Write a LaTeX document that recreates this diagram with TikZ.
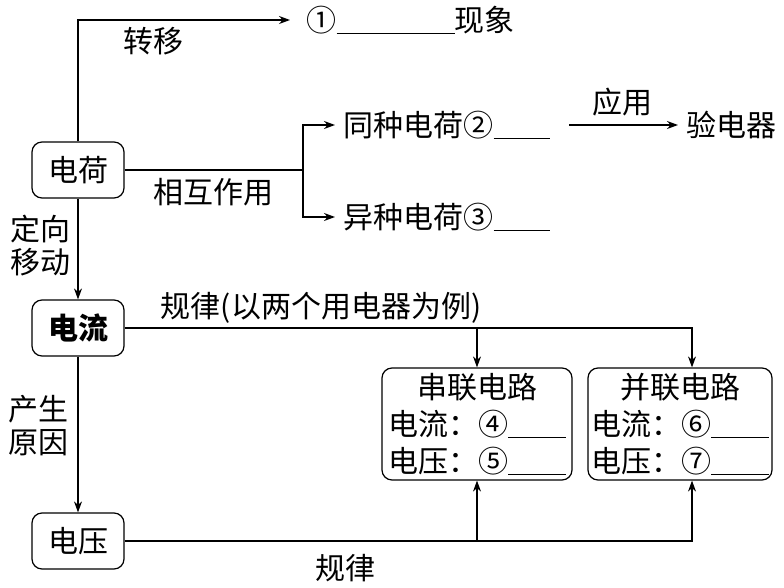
\documentclass[tikz,border=0pt]{standalone}
\usepackage{fontspec}
\setmainfont{Noto Sans CJK SC}
\usetikzlibrary{arrows.meta}

\begin{document}
\begin{tikzpicture}[x=1pt,y=-1pt,line width=1.2pt,>={Stealth[length=11pt,width=8pt]},
        font=\fontsize{30}{37}\selectfont]
        \useasboundingbox (0,0) rectangle (784,588);
        \begin{scope}[every node/.style={draw,rounded corners=10pt,minimum width=92pt,minimum height=56pt,inner sep=0pt}]
            \node (dianhe) at (78,170) {电荷};
            \node (dianliu) at (78,328) {\bfseries 电流};
            \node (dianya) at (78,541) {电压};
        \end{scope}
        \begin{scope}[every node/.style={draw,rounded corners=10pt,minimum height=112pt,inner sep=0pt,align=center}]
            \node (chuan) [minimum width=190pt] at (477,424) {串联电路\\电流：④\underline{\hspace{58pt}}\\电压：⑤\underline{\hspace{58pt}}};
            \node (bing) [minimum width=184pt] at (680,424) {并联电路\\电流：⑥\underline{\hspace{58pt}}\\电压：⑦\underline{\hspace{58pt}}};
        \end{scope}
        \begin{scope}[every node/.style={inner xsep=8pt,inner ysep=2pt}]
            \node (xianxiang) [anchor=west] at (298,20) {①\underline{\hspace{118pt}}现象};
            \node (tong) [anchor=west] at (335,125) {同种电荷②\underline{\hspace{56pt}}};
            \node (yi) [anchor=west] at (335,217) {异种电荷③\underline{\hspace{56pt}}};
            \node (yan) [anchor=west] at (678,125) {验电器};
            \node (zhuanyi) at (153,41) {转移};
            \node (huxiang) at (213,192) {相互作用};
            \node (yingyong) at (622,102) {应用};
            \node (dingxiang) [align=center,font=\fontsize{30}{33}\selectfont] at (40,246) {定向\\移动};
            \node (yuanyin) [align=center,font=\fontsize{30}{33}\selectfont] at (39,426) {产生\\原因};
            \node (guilv1) at (321,308) {规律(以两个用电器为例)};
            \node (guilv2) at (345,568) {规律};
        \end{scope}
        \coordinate (fen) at (303,170);
        \draw[->,shorten >=8pt] (dianhe.north) |- (xianxiang.west);
        \draw (dianhe.east) -- (fen);
        \draw[->] (fen) |- (tong.west);
        \draw[->] (fen) |- (yi.west);
        \draw[->,shorten <=11pt] (tong) -- (yan);
        \draw[->] (dianhe) -- (dianliu);
        \draw[->] (dianliu) -- (dianya);
        \draw[->] (dianliu.east) -| ([xshift=12pt]bing.north);
        \draw[->] (dianliu.east -| chuan.north) -- (chuan.north);
        \draw[->] (dianya.east) -| ([xshift=12pt]bing.south);
        \draw[->] (dianya.east -| chuan.south) -- (chuan.south);
    \end{tikzpicture}
\end{document}
